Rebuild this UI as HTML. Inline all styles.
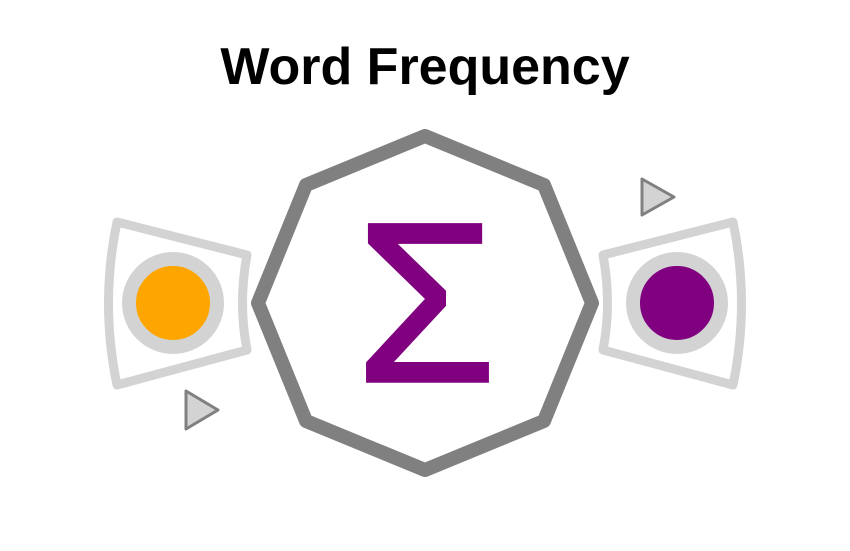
<!DOCTYPE html>
<html><head><style>body{margin:0;background:#fff}</style></head><body>
<svg width="850" height="546" viewBox="0 0 850 546" xmlns="http://www.w3.org/2000/svg">
<text x="425" y="84" text-anchor="middle" font-family="Liberation Sans, sans-serif" font-weight="bold" font-size="52" fill="#000">Word Frequency</text>
<polygon points="425,136 544,185 592,303 544,421 425,470 306,421 258,303 306,185" fill="#fff" stroke="#808080" stroke-width="14" stroke-linejoin="round"/>
<text x="426" y="381" text-anchor="middle" font-family="Liberation Sans, sans-serif" font-size="227" fill="#800080" stroke="#800080" stroke-width="3.5">Σ</text>
<path d="M117,222 L247,255 Q238,303 247,350 L117,385 Q100,303 117,222 Z" fill="#fff" stroke="#d3d3d3" stroke-width="9" stroke-linejoin="round"/>
<circle cx="173" cy="303" r="44" fill="#ffa500" stroke="#d3d3d3" stroke-width="14"/>
<path d="M733,222 L603,255 Q612,303 603,350 L733,385 Q750,303 733,222 Z" fill="#fff" stroke="#d3d3d3" stroke-width="9" stroke-linejoin="round"/>
<circle cx="677" cy="303" r="44" fill="#800080" stroke="#d3d3d3" stroke-width="14"/>
<polygon points="186,391 218,410 186,429" fill="#d3d3d3" stroke="#808080" stroke-width="3" stroke-linejoin="round"/>
<polygon points="642,179 674,197 642,215" fill="#d3d3d3" stroke="#808080" stroke-width="3" stroke-linejoin="round"/>
</svg>
</body></html>
